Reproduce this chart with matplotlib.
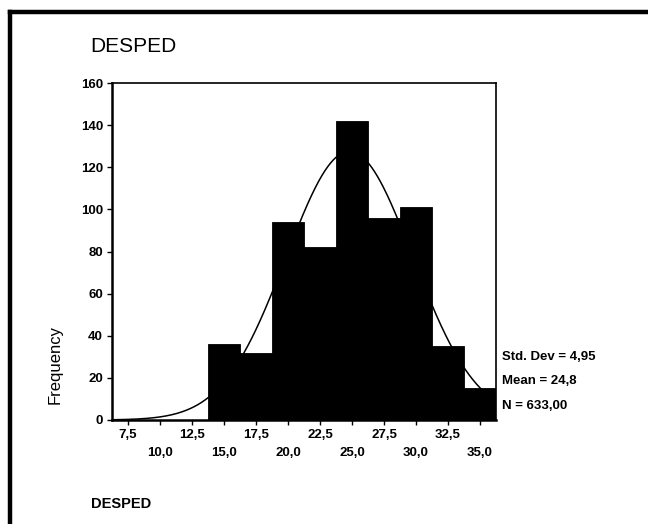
import numpy as np
import matplotlib
matplotlib.use("Agg")
import matplotlib.pyplot as plt
from matplotlib.lines import Line2D

# Data
bin_centers = [7.5, 10.0, 12.5, 15.0, 17.5, 20.0, 22.5, 25.0, 27.5, 30.0, 32.5, 35.0]
counts = [0, 0, 0, 36, 32, 94, 82, 142, 96, 101, 35, 15]
bin_width = 2.5
mean_val = 24.8
std_val = 4.95
n_val = 633
row1_ticks = [7.5, 12.5, 17.5, 22.5, 27.5, 32.5]
row2_ticks = [10.0, 15.0, 20.0, 25.0, 30.0, 35.0]
y_ticks = [0, 20, 40, 60, 80, 100, 120, 140, 160]
title_text = "DESPED"
xlabel_text = "DESPED"
ylabel_text = "Frequency"
stats_lines = ["Std. Dev = 4,95", "Mean = 24,8", "N = 633,00"]

plt.rcParams['font.family'] = ['Liberation Sans', 'DejaVu Sans']

W, H = 648, 524
fig = plt.figure(figsize=(W / 100, H / 100), dpi=100)

def fx(px):
    return px / W

def fy(py):
    return 1 - py / H

# Outer frame (left and top thick lines)
fig.add_artist(Line2D([fx(10), fx(10)], [fy(12), 0], color='black', lw=3.2,
                      transform=fig.transFigure, solid_capstyle='projecting'))
fig.add_artist(Line2D([fx(10), 1], [fy(12), fy(12)], color='black', lw=3.2,
                      transform=fig.transFigure, solid_capstyle='projecting'))

ax_left, ax_right, ax_top, ax_bottom = 112, 496, 83, 420
ax = fig.add_axes([fx(ax_left), fy(ax_bottom), fx(ax_right - ax_left), (ax_bottom - ax_top) / H])

lo = bin_centers[0] - bin_width / 2
hi = bin_centers[-1] + bin_width / 2
ax.bar(bin_centers, counts, width=bin_width, color='black', edgecolor='black', linewidth=0.6)

xs = np.linspace(lo, hi, 400)
ys = n_val * bin_width / (std_val * np.sqrt(2 * np.pi)) * np.exp(-0.5 * ((xs - mean_val) / std_val) ** 2)
ax.plot(xs, ys, color='black', lw=1.1)

ax.set_xlim(lo, hi)
ax.set_ylim(0, 160)
ax.set_yticks(y_ticks)
ax.set_yticklabels([str(v) for v in y_ticks], fontsize=9.5, fontweight='bold')

all_ticks = sorted(row1_ticks + row2_ticks)
ax.set_xticks(all_ticks)
labels = []
for t in all_ticks:
    s = f"{t:.1f}".replace('.', ',')
    if t in row2_ticks:
        s = "\n" + s
    labels.append(s)
ax.set_xticklabels(labels, fontsize=9.5, fontweight='bold', linespacing=1.65)

ax.tick_params(axis='both', direction='out', length=3.5, width=1.0, pad=3)
for sp in ['left', 'bottom']:
    ax.spines[sp].set_linewidth(1.8)
for sp in ['top', 'right']:
    ax.spines[sp].set_linewidth(1.2)

fig.text(fx(55), fy(365), ylabel_text, fontsize=12, rotation=90, ha='center', va='center')

fig.text(fx(90), fy(46), title_text, fontsize=15, ha='left', va='center')
fig.text(fx(91), fy(504), xlabel_text, fontsize=10.5, fontweight='bold', ha='left', va='center')

for line, py in zip(stats_lines, [357, 381, 406]):
    fig.text(fx(502), fy(py), line, fontsize=9.5, fontweight='bold', ha='left', va='center')

fig.savefig("out.png", dpi=100)
